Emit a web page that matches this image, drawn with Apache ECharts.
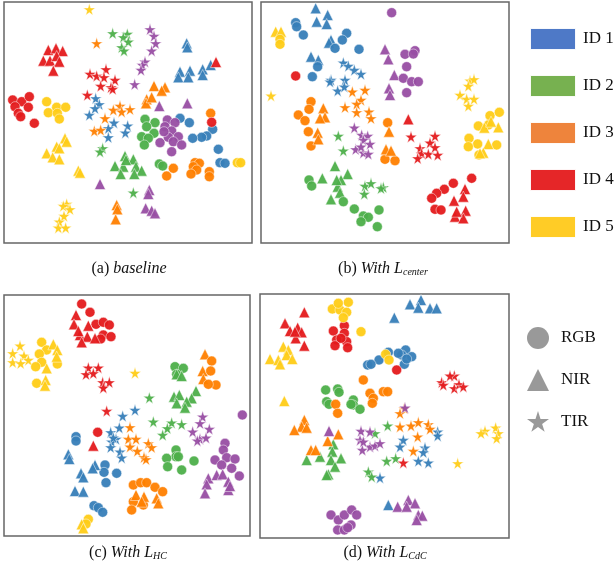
<!DOCTYPE html>
<html>
<head>
<meta charset="utf-8">
<script src="https://cdn.jsdelivr.net/npm/echarts@6/dist/echarts.min.js"></script>
<style>
  html, body { margin: 0; padding: 0; background: #fff; }
  #chart { width: 614px; height: 577px; }
</style>
</head>
<body>
<div id="chart"></div>
<script>
// shape codes: 0 = RGB (circle), 1 = NIR (triangle), 2 = TIR (star)
// point coordinates (3x crop units, y downwards)

// (a) baseline
const aBlue = [
  [560,130,1],[562,142,1],[540,215,1],[570,212,1],[608,208,1],[632,195,1],[535,232,1],[565,232,1],[608,225,1],
  [287,295,2],[298,313,2],[285,325,2],[268,345,2],[342,368,2],[325,385,2],[383,377,2],[325,412,2],[376,398,2],
  [540,355,0],[568,368,0],[638,388,0],[620,408,0],[605,412,0],[578,415,0],[655,448,0],[660,488,0],[675,490,0]
];
const aGreen = [
  [338,100,2],[382,102,2],[370,112,2],[385,125,2],[365,142,2],[372,152,2],[308,445,2],[300,455,2],[400,578,2],
  [435,358,0],[465,368,0],[440,380,0],[462,400,0],[425,410,0],[445,415,0],[433,435,0],[478,492,0],[488,498,0],
  [375,468,1],[400,478,1],[345,498,1],[370,500,1],[408,500,1],[425,512,1],[362,522,1],[403,522,1],[378,480,1]
];
const aOrange = [
  [290,130,2],[360,318,2],[340,330,2],[365,335,2],[390,328,2],[315,355,2],[283,393,2],[302,390,2],
  [462,258,1],[495,262,1],[485,272,1],[440,298,1],[438,310,1],[455,292,1],
  [632,340,0],[585,488,0],[598,490,0],[580,500,0],[590,510,0],[573,522,0],[628,515,0],[628,530,0],[520,505,0],[500,528,0],
  [350,615,1],[352,628,1],[347,658,1]
];
const aRed = [
  [145,150,1],[168,145,1],[188,153,1],[130,182,1],[150,182,1],[170,168,1],[178,185,1],[160,212,1],
  [38,300,0],[65,305,0],[88,290,0],[45,320,0],[85,322,0],[55,340,0],[62,350,0],[103,370,0],
  [318,208,2],[270,222,2],[290,228,2],[312,232,2],[345,240,2],[302,258,2],[333,262,2],[338,267,2],[262,285,2],
  [648,186,1],[635,367,0]
];
const aYellow = [
  [268,28,2],
  [140,305,0],[170,322,0],[197,322,0],[145,338,0],[172,340,0],[178,357,0],
  [195,415,1],[200,425,1],[170,440,1],[178,445,1],[140,460,1],[158,472,1],[178,478,1],[235,512,1],[240,518,1],
  [712,488,0],[722,488,0],
  [200,612,2],[190,618,2],[210,628,2],[192,648,2],[178,665,2],[175,683,2],[197,683,2]
];
const aPurple = [
  [450,88,2],[462,108,2],[467,130,2],[455,152,2],[435,185,2],[427,195,2],[423,210,2],[404,253,2],
  [478,318,1],[562,310,1],
  [502,360,0],[525,368,0],[495,380,0],[515,393,0],[535,410,0],[480,428,0],[505,412,0],[520,425,0],[545,435,0],[515,455,0],[492,395,0],
  [300,552,1],[448,570,1],[445,582,1],[437,625,1],[455,632,1],[465,640,1]
];

// (b) with L_center
const bBlue = [
  [182,25,1],[218,45,1],[185,65,1],[215,72,1],[228,120,1],[168,170,1],[190,180,1],[222,128,1],
  [122,68,0],[125,80,0],[145,105,0],[275,100,0],[262,120,0],[240,145,0],[312,148,0],[188,200,0],[172,230,0],
  [265,188,2],[280,198,2],[298,210,2],[318,222,2],[228,240,2],[270,240,2],[248,272,2],[225,245,2],[268,260,2]
];
const bGreen = [
  [250,408,2],[265,452,2],[330,558,2],[348,550,2],[385,562,2],[328,582,2],[378,565,2],
  [240,498,1],[202,535,1],[278,522,1],[258,540,1],[248,560,1],[255,578,1],[228,598,1],[245,540,1],
  [162,540,0],[170,558,0],[265,605,0],[298,627,0],[325,648,0],[340,652,0],[318,665,0],[372,630,0],[367,680,0]
];
const bOrange = [
  [292,275,2],[330,270,2],[318,300,2],[270,322,2],[305,312,2],[305,337,2],[342,335,2],[348,355,2],
  [168,305,0],[162,328,0],[130,345,0],[150,362,0],[160,395,0],[168,438,0],[398,368,0],[390,478,0],[420,482,0],
  [205,325,1],[210,352,1],[195,355,1],[188,398,1],[190,418,1],[402,395,1],[393,448,1],[408,452,1]
];
const bRed = [
  [122,228,0],[460,358,1],
  [468,410,2],[540,408,2],[525,428,2],[495,445,2],[540,442,2],[500,460,2],[520,462,2],[548,465,2],[488,475,2],
  [650,535,0],[595,550,0],[568,568,0],[545,580,0],[530,595,0],[540,628,0],[558,630,0],
  [630,567,1],[625,590,1],[597,602,1],[632,632,1],[600,650,1],[625,655,1],[605,635,1]
];
const bYellow = [
  [62,95,1],[78,95,1],[75,118,0],[75,133,0],
  [48,287,2],
  [645,242,2],[657,238,2],[640,258,2],[615,285,2],[635,297,2],[657,297,2],[640,318,2],
  [705,347,0],[733,337,0],[670,378,0],[700,375,0],[642,415,0],[668,432,0],[640,440,0],[725,435,0],[672,465,0],
  [730,382,1],[688,383,1],[708,365,1],[700,432,1],[685,458,1],[675,460,1]
];
const bPurple = [
  [410,38,0],
  [390,148,1],[400,178,1],[418,225,1],[402,265,1],[405,285,1],
  [480,152,0],[450,163,0],[475,162,0],[455,200,0],[445,235,0],[470,245,0],[490,245,0],[455,278,0],
  [298,383,2],[320,405,2],[338,408,2],[325,420,2],[345,432,2],[302,448,2],[325,458,2],[340,462,2],[318,440,2]
];

// (c) with L_HC
const cBlue = [
  [405,375,2],[368,393,2],[358,428,2],[332,442,2],[348,462,2],[335,470,2],[332,487,2],[360,500,2],[365,518,2],[340,458,2],
  [228,455,0],[228,468,0],[315,540,0],[312,562,0],[350,565,0],[318,593,0],[282,662,0],[295,668,0],[308,682,0],
  [205,508,1],[208,522,1],[285,540,1],[278,550,1],[243,565,1],[250,577,1],[225,618,1],[250,620,1]
];
const cGreen = [
  [525,245,0],[550,250,0],[530,268,0],[528,495,0],[528,515,0],[500,520,0],[535,515,0],[503,545,0],[545,555,0],[582,528,0],
  [530,268,1],[545,273,1],[588,318,1],[522,335,1],[538,330,1],[575,340,1],[560,350,1],[530,355,1],[555,368,1],
  [448,338,2],[460,410,2],[515,413,2],[545,418,2],[502,430,2],[488,450,2]
];
const cOrange = [
  [615,208,1],[608,258,1],[610,282,1],
  [635,228,0],[632,258,0],[648,300,0],[625,298,0],
  [390,427,2],[385,462,2],[408,462,2],[445,475,2],[455,487,2],[390,485,2],[412,498,2],[432,517,2],[438,523,2],
  [400,600,0],[422,593,0],[440,593,0],[465,607,0],[488,620,0],[400,650,0],[395,675,0],[430,660,0],
  [408,630,1],[432,635,1],[470,640,1],[475,655,1],[425,650,1]
];
const cRed = [
  [245,57,0],[270,82,0],[288,118,0],[310,112,0],[328,120,0],[310,150,0],[333,155,0],[302,162,0],
  [228,90,1],[222,118,1],[265,122,1],[240,150,1],[262,155,1],[245,172,1],[285,160,1],[235,138,1],
  [265,248,2],[295,248,2],[258,268,2],[280,265,2],[308,292,2],[328,292,2],[310,308,2],
  [320,378,2],[293,442,0],[280,482,1]
];
const cYellow = [
  [60,182,2],[38,205,2],[72,212,2],[85,225,2],[38,232,2],[62,235,2],
  [125,172,0],[140,195,0],[118,207,0],[125,232,0],[107,245,0],[172,237,0],[110,295,0],
  [160,178,1],[172,195,1],[170,215,1],[140,250,1],[137,285,1],[135,302,1],
  [405,264,2],
  [265,703,0],[258,717,0],[245,718,1],[250,730,1]
];
const cPurple = [
  [727,390,0],
  [608,395,2],[600,415,2],[628,432,2],[578,440,2],[600,462,2],[618,458,2],[592,467,2],
  [675,475,0],[670,495,0],[680,518,0],[705,522,0],[645,525,0],[695,550,0],[718,573,0],[665,540,0],
  [625,580,1],[650,570,1],[668,568,1],[685,590,1],[620,598,1],[615,625,1],[685,615,1],[690,603,1]
];

// (d) with L_CdC
const dBlue = [
  [465,58,1],[498,45,1],[490,68,1],[525,70,1],[545,70,1],[418,98,1],[400,660,1],
  [452,195,0],[470,215,0],[440,210,0],[430,205,0],[448,238,0],[372,225,0],[338,240,0],[348,238,0],[400,202,0],[455,222,0],
  [548,440,2],[548,452,2],[445,465,2],[435,485,2],[510,488,2],[505,502,2],[490,528,2],[520,533,2],[375,578,2]
];
const dGreen = [
  [212,315,0],[248,312,0],[252,322,0],[215,350,0],[222,358,0],[295,345,0],[295,360,0],[315,373,0],[288,358,0],
  [235,478,1],[232,500,1],[258,520,1],[228,525,1],[155,525,1],[195,515,1],[240,545,1],[220,568,1],[215,570,1],
  [360,445,2],[398,422,2],[395,528,2],[422,520,2],[340,560,2],[350,575,2]
];
const dOrange = [
  [325,285,0],[345,325,0],[355,340,0],[352,355,0],[385,320,0],[398,320,0],[242,358,0],[248,385,0],
  [148,405,1],[140,425,1],[118,435,1],[155,428,1],[250,448,1],[218,468,1],[168,495,1],[182,495,1],
  [448,370,2],[435,385,2],[435,425,2],[468,422,2],[490,412,2],[520,418,2],[525,432,2],[488,455,2],[475,498,2]
];
const dRed = [
  [148,82,1],[90,115,1],[105,138,1],[128,128,1],[140,142,1],[122,160,1],[148,182,1],[120,140,1],
  [235,138,0],[268,122,0],[268,145,0],[245,165,0],[240,182,0],[275,170,0],[278,188,0],[258,160,0],
  [425,255,0],
  [560,292,2],[598,272,2],[585,272,2],[565,300,2],[598,310,2],[612,298,2],[625,305,2],
  [445,533,2]
];
const dYellow = [
  [232,72,0],[255,75,0],[280,52,0],[250,55,0],[275,82,0],[265,98,0],[318,140,0],
  [392,208,0],[402,225,0],
  [85,185,1],[100,195,1],[95,210,1],[45,222,1],[70,225,1],[112,222,1],[75,238,1],[88,348,1],
  [690,438,2],[722,428,2],[730,445,2],[678,445,2],[725,460,2],[608,535,2]
];
const dPurple = [
  [450,368,2],
  [318,438,2],[345,440,2],[315,465,2],[322,495,2],[345,485,2],[360,482,2],[375,475,2],[325,470,2],
  [222,438,1],
  [428,665,1],[460,645,1],[480,655,1],[455,665,1],[490,690,1],[502,692,1],[485,705,1],
  [228,690,0],[250,705,0],[268,690,0],[290,675,0],[305,690,0],[248,735,0],[268,735,0],[288,720,0],[278,728,0]
];

const idNames = ['ID 1', 'ID 2', 'ID 3', 'ID 4', 'ID 5', 'ID 6'];
const pointColors = ['#377eb8', '#4daf4a', '#ff7f00', '#e41a1c', '#ffcc17', '#984ea3'];
const legendColors = ['#4472c4', '#70ad47', '#ed7d31', '#e41a1c', '#ffc91a'];
const modalities = ['RGB', 'NIR', 'TIR'];

const STAR = 'path://M50,0 L61,35 L98,35 L68,57 L79,91 L50,70 L21,91 L32,57 L2,35 L39,35 Z';
const symbols = ['circle', 'triangle', STAR];
const sizes = [10, 11, 12];

const panels = [
  { groups: [aBlue, aGreen, aOrange, aRed, aYellow, aPurple], grid: { left: 4, top: 2, width: 248, height: 241 }, x: [12, 756], y: [6, 729] },
  { groups: [bBlue, bGreen, bOrange, bRed, bYellow, bPurple], grid: { left: 261, top: 2, width: 248, height: 241 }, x: [18, 762], y: [6, 729] },
  { groups: [cBlue, cGreen, cOrange, cRed, cYellow, cPurple], grid: { left: 4, top: 295, width: 246, height: 241 }, x: [12, 750], y: [30, 753] },
  { groups: [dBlue, dGreen, dOrange, dRed, dYellow, dPurple], grid: { left: 260, top: 294, width: 249, height: 244 }, x: [15, 762], y: [27, 759] }
];

const grids = [], xAxes = [], yAxes = [], series = [];
panels.forEach(function (p, i) {
  grids.push(Object.assign({ show: true, borderColor: '#666', borderWidth: 1.5, containLabel: false }, p.grid));
  xAxes.push({ type: 'value', gridIndex: i, min: p.x[0], max: p.x[1], show: false });
  yAxes.push({ type: 'value', gridIndex: i, min: p.y[0], max: p.y[1], inverse: true, show: false });
  p.groups.forEach(function (data, k) {
    series.push({
      type: 'scatter',
      name: idNames[k],
      xAxisIndex: i,
      yAxisIndex: i,
      data: data,
      symbol: function (v) { return symbols[v[2]]; },
      symbolSize: function (v) { return sizes[v[2]]; },
      itemStyle: { color: pointColors[k], borderColor: '#fff', borderWidth: 0.5, opacity: 0.95 },
      silent: true
    });
  });
});

// empty series so the modality legend gets its gray shapes
modalities.forEach(function (m, k) {
  series.push({ type: 'scatter', name: m, symbol: symbols[k], data: [], itemStyle: { color: '#808080' } });
});

const captionFont = '"Liberation Serif", "DejaVu Serif", serif';
const rich = {
  n: { fontFamily: captionFont, fontSize: 16, fill: '#111' },
  i: { fontFamily: captionFont, fontSize: 16, fontStyle: 'italic', fill: '#111' },
  s: { fontFamily: captionFont, fontSize: 10, fontStyle: 'italic', fill: '#111', padding: [7, 0, 0, 0] }
};
const captions = [
  { x: 129, y: 269, text: '{n|(a) }{i|baseline}' },
  { x: 383, y: 269, text: '{n|(b) }{i|With L}{s|center}' },
  { x: 128, y: 553, text: '{n|(c) }{i|With L}{s|HC}' },
  { x: 385, y: 553, text: '{n|(d) }{i|With L}{s|CdC}' }
];

const chart = echarts.init(document.getElementById('chart'));
chart.setOption({
  animation: false,
  backgroundColor: '#fff',
  grid: grids,
  xAxis: xAxes,
  yAxis: yAxes,
  legend: [
    {
      left: 529, top: 27, orient: 'vertical', icon: 'rect', padding: 0,
      itemWidth: 46, itemHeight: 22, itemGap: 23, selectedMode: false,
      textStyle: { fontFamily: captionFont, fontSize: 17, color: '#111', padding: [0, 0, 0, 2] },
      data: legendColors.map(function (c, k) { return { name: idNames[k], itemStyle: { color: c } }; })
    },
    {
      left: 527, top: 327, orient: 'vertical', padding: 0,
      itemWidth: 22, itemHeight: 22, itemGap: 20, selectedMode: false,
      textStyle: { fontFamily: captionFont, fontSize: 17, color: '#111', padding: [0, 0, 0, 7] },
      data: modalities
    }
  ],
  graphic: captions.map(function (c) {
    return {
      type: 'text', x: c.x, y: c.y,
      style: { text: c.text, rich: rich, textAlign: 'center', textVerticalAlign: 'middle' }
    };
  }),
  series: series
});
</script>
</body>
</html>
